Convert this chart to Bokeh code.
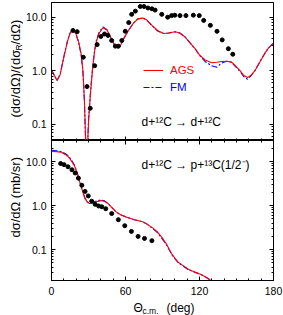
from math import pi
from bokeh.plotting import figure
from bokeh.layouts import column, row
from bokeh.models import (LogAxis, LinearAxis, FixedTicker, SingleIntervalTicker,
                          PrintfTickFormatter, CustomJSTickFormatter, Label, Legend,
                          LegendItem, Range1d)
from bokeh.embed import file_html
from bokeh.resources import INLINE

FONT = "Liberation Sans"

# ---------------- data: elastic d+12C -> d+12C (ratio to Rutherford) ----------------
el_theta = [17.4, 20.8, 25.8, 28.8, 31.4, 35.0, 37.0, 40.0, 43.0, 45.8, 48.8, 51.8, 54.2,
            57.0, 59.8, 62.6, 65.0, 68.0, 72.0, 75.0, 78.2, 81.4, 84.0, 89.4, 94.2, 97.4,
            100.0, 104.2, 109.0, 115.0, 119.8, 123.4, 128.8, 134.2, 138.4, 143.4, 147.0]
el_ratio = [5.7, 5.4, 1.8, 0.51, 0.2, 1.25, 3.1, 4.4, 4.9, 4.6, 3.7, 2.9, 2.9,
            3.7, 5.5, 8.0, 11.4, 13.1, 16.0, 16.0, 15.0, 14.5, 13.7, 11.4, 10.1, 10.8,
            11.0, 10.8, 10.8, 11.0, 10.8, 8.8, 7.1, 5.5, 3.8, 2.6, 2.05]

ags_el_theta = [0, 2, 4.5, 7, 10, 13, 15, 17, 19.5, 22, 24, 25.5, 26.7, 27.6, 28.2,
                29.0, 30.1, 31.3, 32.3, 33.5, 35, 36.5, 38.5, 41.7, 45, 48, 51, 53.8,
                56, 58, 61.8, 66, 70, 74, 77, 81.5, 86, 90.9, 95, 100.3, 104, 108.3,
                112, 116.4, 120, 124.5, 129.8, 134, 137.9, 142, 146, 149, 152.7, 156,
                158.9, 161.5, 164.8, 168, 172.8, 176, 180]
ags_el_ratio = [1.02, 0.85, 0.66, 0.85, 1.8, 3.6, 5.0, 5.8, 5.2, 3.5, 2.1, 1.0, 0.28, 0.06, 0.02,
                0.03, 0.12, 0.3, 0.59, 1.2, 2.4, 3.6, 5.0, 6.4, 5.8, 4.2, 3.1, 2.7,
                3.0, 3.8, 5.4, 7.6, 9.4, 9.7, 9.0, 7.1, 5.7, 5.0, 5.1, 5.4, 5.1, 4.3,
                3.4, 2.6, 2.0, 1.6, 1.42, 1.45, 1.5, 1.52, 1.46, 1.25, 1.02, 0.82,
                0.75, 0.82, 1.0, 1.35, 2.1, 2.7, 3.3]

fm_el_theta = ags_el_theta
fm_el_ratio = [1.05, 0.86, 0.66, 0.86, 1.85, 3.7, 5.1, 5.8, 5.1, 3.4, 2.0, 0.95, 0.26, 0.05, 0.02,
               0.03, 0.13, 0.32, 0.62, 1.25, 2.5, 3.8, 5.2, 6.6, 5.9, 4.2, 3.1, 2.7,
               3.0, 3.8, 5.4, 7.6, 9.4, 9.7, 9.0, 7.0, 5.6, 5.0, 5.1, 5.4, 5.1, 4.3,
               3.4, 2.6, 1.95, 1.5, 1.25, 1.17, 1.4, 1.52, 1.46, 1.22, 0.98, 0.78,
               0.7, 0.8, 1.0, 1.35, 2.1, 2.7, 3.3]

# ---------------- data: transfer d+12C -> p+13C(1/2-) ----------------
tr_theta = [7.4, 10.2, 13.4, 16.6, 19.2, 21.8, 24.6, 27.2, 29.8, 32.6, 35.4, 38.2, 40.8,
            44.0, 48.8, 54.2, 59.4, 64.8, 70.2, 75.4, 81.4]
tr_xsec = [9.0, 8.5, 7.6, 6.5, 5.5, 4.2, 2.9, 2.1, 1.66, 1.26, 1.07, 0.98, 0.94,
           0.85, 0.66, 0.48, 0.35, 0.26, 0.2, 0.18, 0.16]

ags_tr_theta = [0, 4, 8, 11, 13.4, 16, 18.8, 21, 22.8, 25, 26.9, 29, 30.9, 33.5, 36.3,
                40.3, 43, 45.7, 49, 52.4, 56, 60.5, 67.2, 73.9, 77.5, 81.5, 85.5, 89.5,
                93.5, 97.6, 100.5, 103, 107, 111, 116, 120.4, 125, 129.8, 132]
ags_tr_xsec = [17, 16.8, 16.2, 14.5, 13, 10.5, 7.8, 5.2, 3.5, 2.2, 1.5, 1.2, 1.12, 1.15, 1.23,
               1.3, 1.25, 1.12, 0.9, 0.72, 0.62, 0.55, 0.48, 0.43, 0.38, 0.32, 0.26, 0.19,
               0.13, 0.079, 0.062, 0.051, 0.043, 0.036, 0.031, 0.028, 0.024, 0.0195, 0.017]
fm_tr_theta = ags_tr_theta
fm_tr_xsec = [18, 17.6, 16.8, 15.2, 13.6, 11.0, 8.1, 5.4, 3.6, 2.25, 1.52, 1.22, 1.14, 1.18, 1.27,
              1.35, 1.28, 1.13, 0.9, 0.72, 0.62, 0.55, 0.48, 0.43, 0.38, 0.31, 0.25, 0.18,
              0.125, 0.077, 0.06, 0.05, 0.042, 0.035, 0.031, 0.028, 0.024, 0.0195, 0.017]

y_ticks = [0.1, 1.0, 10.0]
y_minor = [0.02, 0.03, 0.04, 0.05, 0.06, 0.07, 0.08, 0.09,
           0.2, 0.3, 0.4, 0.5, 0.6, 0.7, 0.8, 0.9,
           2, 3, 4, 5, 6, 7, 8, 9, 20, 30]

RED = "#ff0000"
BLUE = "#0000ff"

FRAME_W = 222
LEFT_B = 27
RIGHT_B = 11
STRIP_W = 23


def style_axis(ax, show_labels):
    ax.axis_line_color = "black"
    ax.major_tick_line_color = "black"
    ax.minor_tick_line_color = "black"
    ax.major_tick_in = 4
    ax.major_tick_out = 0
    ax.minor_tick_in = 2
    ax.minor_tick_out = 0
    ax.major_label_text_font = FONT
    ax.major_label_text_color = "black"
    if show_labels:
        ax.major_label_text_font_size = "10.5px"
        ax.major_label_standoff = 5
    else:
        ax.formatter = CustomJSTickFormatter(code="return ''")
        ax.major_label_text_font_size = "1px"
        ax.major_label_standoff = 0


def make_fig(frame_h, yr, top_b, bot_b):
    p = figure(frame_width=FRAME_W, frame_height=frame_h, y_axis_type="log",
               x_range=Range1d(0, 180), y_range=Range1d(*yr),
               output_backend="svg", toolbar_location=None,
               min_border_left=LEFT_B, min_border_right=RIGHT_B,
               min_border_top=top_b, min_border_bottom=bot_b)
    p.grid.visible = False
    p.outline_line_color = "black"
    p.outline_line_width = 1
    p.background_fill_color = "white"
    p.border_fill_color = "white"
    p.yaxis.ticker = FixedTicker(ticks=y_ticks, minor_ticks=y_minor)
    p.yaxis.formatter = PrintfTickFormatter(format="%.1f")
    p.xaxis.ticker = SingleIntervalTicker(interval=60, num_minor_ticks=6)
    style_axis(p.yaxis[0], True)
    ry = LogAxis(ticker=FixedTicker(ticks=y_ticks, minor_ticks=y_minor))
    style_axis(ry, False)
    p.add_layout(ry, "right")
    return p


def strip(w, h, left=0, right=0):
    f = figure(frame_width=w, frame_height=h, x_range=Range1d(0, 1), y_range=Range1d(0, 1),
               x_axis_location=None, y_axis_location=None, toolbar_location=None,
               output_backend="svg", min_border_left=left, min_border_right=right,
               min_border_top=0, min_border_bottom=0)
    f.grid.visible = False
    f.outline_line_color = None
    f.background_fill_color = "white"
    f.border_fill_color = "white"
    return f


def text_label(p, x, y, text, size, angle=0.0, align="left"):
    p.add_layout(Label(x=x, y=y, x_units="screen", y_units="screen", angle=angle,
                       text=text, text_font=FONT, text_font_size=size,
                       text_baseline="middle", text_align=align, text_color="black"))


# ---------------- top panel ----------------
p1 = make_fig(138, (0.05, 19), 2, 0)
style_axis(p1.xaxis[0], False)

fm1 = p1.line(fm_el_theta, fm_el_ratio, line_color=BLUE, line_width=1.1, line_dash="6 2 2 2")
ag1 = p1.line(ags_el_theta, ags_el_ratio, line_color=RED, line_width=1.1)
p1.scatter(el_theta, el_ratio, size=4, color="black")

for item, col, ypos in ((LegendItem(label="AGS", renderers=[ag1]), RED, 63),
                        (LegendItem(label="FM", renderers=[fm1]), BLUE, 46)):
    lg = Legend(items=[item], location=(92, ypos), padding=0, margin=0, spacing=0,
                glyph_width=20, glyph_height=14, label_height=14, label_standoff=7,
                label_text_font=FONT, label_text_font_size="11.5px",
                label_text_color=col, border_line_color=None, background_fill_alpha=0)
    p1.add_layout(lg, "center")

text_label(p1, 90, 19, "d+¹²C → d+¹²C", "12px")

# ---------------- bottom panel ----------------
p2 = make_fig(140, (0.02, 30), 0, 19)
style_axis(p2.xaxis[0], True)
p2.xaxis.major_label_standoff = 6
ta = LinearAxis(ticker=SingleIntervalTicker(interval=60, num_minor_ticks=6))
style_axis(ta, False)
p2.add_layout(ta, "above")

p2.line(fm_tr_theta, fm_tr_xsec, line_color=BLUE, line_width=1.1, line_dash="6 2 2 2")
p2.line(ags_tr_theta, ags_tr_xsec, line_color=RED, line_width=1.1)
p2.scatter(tr_theta, tr_xsec, size=4, color="black")

text_label(p2, 90, 116, "d+¹²C → p+¹³C(1/2⁻)", "12px")

# ---------------- left strip: rotated y titles ----------------
ls = strip(STRIP_W, 315)
y0 = 198
text_label(ls, 14.5, y0, "(dσ/dΩ)/(dσ", "13px", angle=pi / 2)
text_label(ls, 18, y0 + 67, "R", "8.5px", angle=pi / 2)
text_label(ls, 14.5, y0 + 73, "/dΩ)", "13px", angle=pi / 2)
text_label(ls, 14.5, 120, "dσ/dΩ  (mb/sr)", "13px", angle=pi / 2, align="center")

# ---------------- bottom strip: x title  Θ_c.m.  (deg) ----------------
bs = strip(FRAME_W, 16, left=LEFT_B, right=RIGHT_B)
text_label(bs, 82, 7.5, "Θ", "12px")
text_label(bs, 91, 5, "c.m.", "8.5px")
text_label(bs, 115, 7.5, "(deg)", "12px")

layout = row(ls, column(p1, p2, bs, spacing=0), spacing=0)
open("out.html", "w").write(file_html(layout, INLINE))
